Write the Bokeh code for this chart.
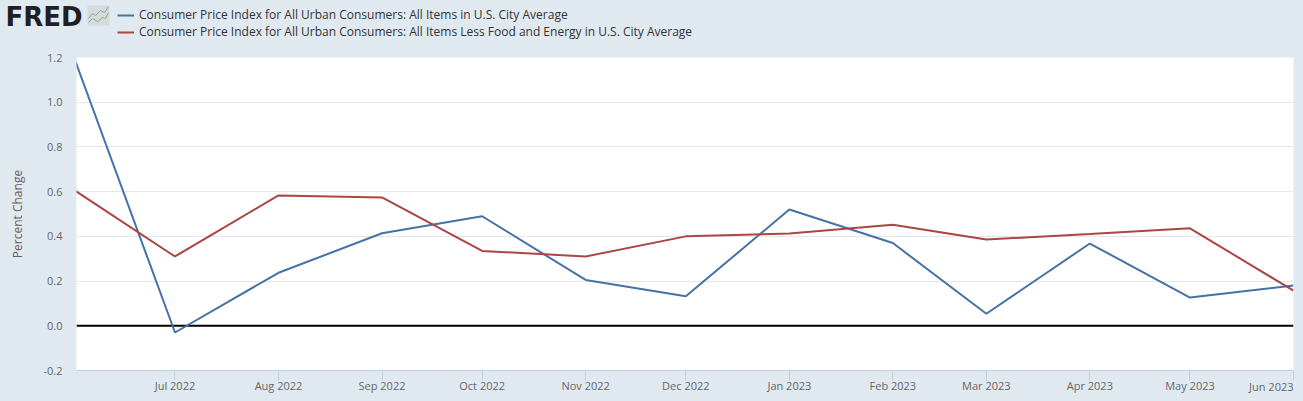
from datetime import datetime, timezone
from bokeh.plotting import figure
from bokeh.layouts import column
from bokeh.models import (ColumnDataSource, FixedTicker, Range1d, Legend, LegendItem,
                          Span, CustomJSTickFormatter)
from bokeh.core.properties import value
from bokeh.embed import file_html
from bokeh.resources import INLINE

months = ["2022-06", "2022-07", "2022-08", "2022-09", "2022-10", "2022-11", "2022-12",
          "2023-01", "2023-02", "2023-03", "2023-04", "2023-05", "2023-06"]
tick_labels = ["Jul 2022", "Aug 2022", "Sep 2022", "Oct 2022", "Nov 2022", "Dec 2022",
               "Jan 2023", "Feb 2023", "Mar 2023", "Apr 2023", "May 2023", "Jun 2023"]
all_items = [1.19, -0.03, 0.237, 0.414, 0.49, 0.205, 0.132, 0.52, 0.37, 0.054, 0.368, 0.126, 0.18]
core = [0.605, 0.31, 0.583, 0.574, 0.335, 0.31, 0.40, 0.413, 0.452, 0.386, 0.41, 0.436, 0.157]
y_ticks = [-0.2, 0.0, 0.2, 0.4, 0.6, 0.8, 1.0, 1.2]
name_all = "Consumer Price Index for All Urban Consumers: All Items in U.S. City Average"
name_core = "Consumer Price Index for All Urban Consumers: All Items Less Food and Energy in U.S. City Average"

BG = "#e1e9f0"
BLUE = "#4572a7"
RED = "#aa4643"
FONT = "Open Sans"
dates = [datetime.strptime(m, "%Y-%m").replace(tzinfo=timezone.utc) for m in months]
ms = [d.timestamp() * 1000 for d in dates]

# ---- header strip: logo and legend
HEAD_H = 49
h = figure(width=1303, height=HEAD_H, output_backend="svg", toolbar_location=None,
           x_range=Range1d(0, 1303), y_range=Range1d(HEAD_H, 0), x_axis_type=None, y_axis_type=None,
           min_border=0, background_fill_color=BG, border_fill_color=BG, outline_line_color=None)
h.frame_align = False
h.text(x=[5], y=[16], text=["FRED"], text_font=value("DejaVu Sans"), text_font_style="bold",
       text_font_size="26px", text_color="#231f20", text_baseline="middle")
h.quad(left=[87], right=[109], top=[5], bottom=[25], fill_color="#d5dade", line_color=None)
h.line([88, 92, 95, 100, 104, 108], [18, 13, 15, 10, 12, 6], line_color="#8f9fb0", line_width=1)
h.line([88, 92, 97, 102, 105, 108], [22, 18, 21, 17, 18, 12], line_color="#8fb070", line_width=1)
k1 = h.line(x=[-20, -10], y=[-20, -20], line_color=BLUE, line_width=2)
k2 = h.line(x=[-20, -10], y=[-20, -20], line_color=RED, line_width=2)
legend = Legend(items=[LegendItem(label=name_all, renderers=[k1]),
                       LegendItem(label=name_core, renderers=[k2])],
                location=(117, 9), orientation="vertical", background_fill_alpha=0,
                border_line_color=None, glyph_width=17, glyph_height=16, label_height=16,
                label_standoff=5, spacing=0, padding=0, margin=0,
                label_text_font=FONT, label_text_font_size="12px", label_text_color="#333333")
h.add_layout(legend, "center")

# ---- chart
x0 = ms[0] + 0.5 * 86400000
p = figure(width=1303, height=401 - HEAD_H, output_backend="svg", toolbar_location=None,
           x_axis_type="datetime", x_range=Range1d(x0, ms[-1]), y_range=Range1d(-0.2, 1.2),
           min_border_left=76, min_border_right=10, min_border_top=8, min_border_bottom=31,
           background_fill_color="white", border_fill_color=BG, outline_line_color=None)
p.frame_align = False

src = ColumnDataSource(dict(x=ms, a=all_items, c=core))
p.add_layout(Span(location=0, dimension="width", line_color="black", line_width=2, level="underlay"))
p.line("x", "a", source=src, line_color=BLUE, line_width=2)
p.line("x", "c", source=src, line_color=RED, line_width=2)

p.xaxis.ticker = FixedTicker(ticks=ms[1:])
p.xaxis.major_label_overrides = {m: t for m, t in zip(ms[1:-1], tick_labels[:-1])} | {ms[-1]: ""}
p.xaxis.axis_line_color = "#c0d0e0"
p.xaxis.major_tick_line_color = "#c0d0e0"
p.xaxis.major_tick_in = 0
p.xaxis.major_tick_out = 10
p.xaxis.minor_tick_line_color = None
p.xaxis.major_label_standoff = -3
p.xaxis.major_label_text_font = FONT
p.xaxis.major_label_text_font_size = "11px"
p.xaxis.major_label_text_color = "#666666"

p.yaxis.ticker = FixedTicker(ticks=y_ticks)
p.yaxis.axis_line_color = None
p.yaxis.major_tick_line_color = None
p.yaxis.minor_tick_line_color = None
p.yaxis.major_label_standoff = 8
p.yaxis.major_label_text_font = FONT
p.yaxis.major_label_text_font_size = "11px"
p.yaxis.major_label_text_color = "#666666"
p.yaxis.formatter = CustomJSTickFormatter(code="return tick.toFixed(1)")
p.yaxis.axis_label = "Percent Change"
p.yaxis.axis_label_text_font = FONT
p.yaxis.axis_label_text_font_size = "12px"
p.yaxis.axis_label_text_font_style = "normal"
p.yaxis.axis_label_text_color = "#6d5a5a"
p.yaxis.axis_label_standoff = 14

p.xgrid.visible = False
p.ygrid.grid_line_color = "#e6e6e6"
p.ygrid.level = "underlay"

# ---- transparent strip over the tick-label row: last label sits wholly left of its tick
ms_per_px = (ms[-1] - x0) / 1217
f = figure(width=1303, height=20, output_backend="svg", toolbar_location=None,
           x_range=Range1d(x0, ms[-1] + 10 * ms_per_px), y_range=Range1d(20, 0),
           x_axis_type=None, y_axis_type=None,
           min_border_left=76, min_border_right=0, min_border_top=0, min_border_bottom=0,
           background_fill_alpha=0, border_fill_alpha=0, outline_line_color=None,
           margin=(-20, 0, 0, 0))
f.frame_align = False
f.text(x=[ms[-1]], y=[5], text=[tick_labels[-1]], text_align="right", text_baseline="middle",
       text_font=value(FONT), text_font_size="11px", text_color="#666666")

page = column(h, p, f, spacing=0, margin=0)
html = file_html(page, INLINE)
html = html.replace("<head>", "<head><style>html,body{margin:0;padding:0;overflow:hidden;background:#e1e9f0}</style>", 1)
open("out.html", "w").write(html)
